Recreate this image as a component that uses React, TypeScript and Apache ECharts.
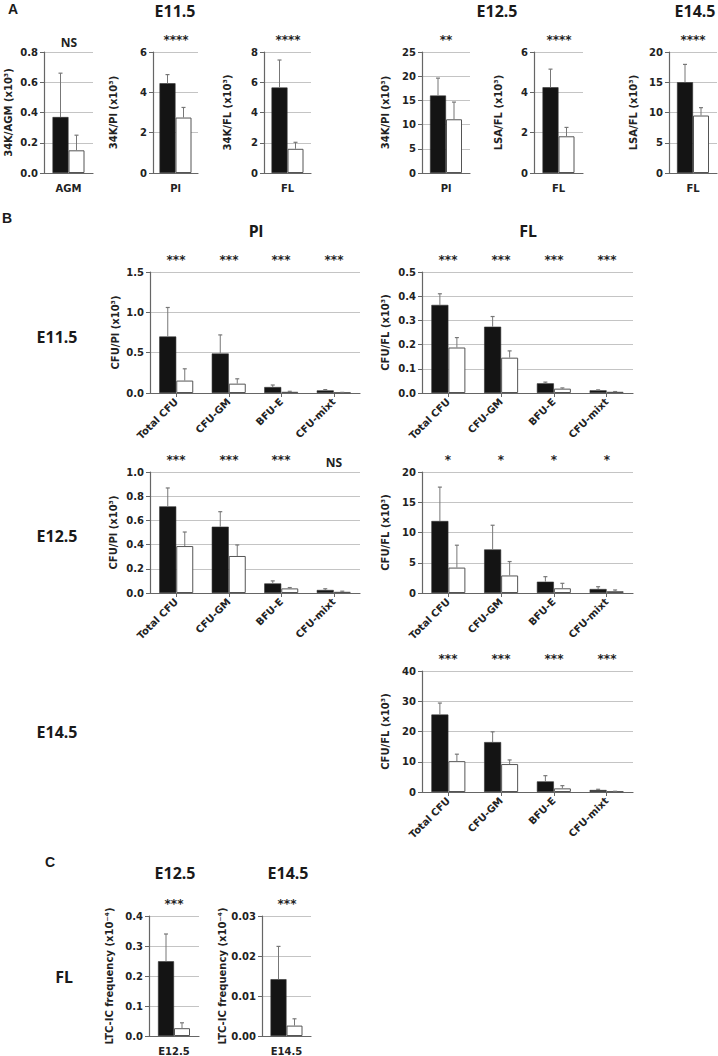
import React, { useEffect, useRef } from "react";
import * as echarts from "echarts";

// ---------- Panel A ----------
const aCategories = ["AGM", "Pl", "FL", "Pl", "FL", "FL"];
const aYNames = ["34K/AGM (x10³)", "34K/Pl (x10³)", "34K/FL (x10³)", "34K/Pl (x10³)", "LSA/FL (x10³)", "LSA/FL (x10³)"];
const aMax = [0.8, 6, 8, 25, 6, 20];
const aInterval = [0.2, 2, 2, 5, 2, 5];
const aDecimals = [1, 0, 0, 0, 0, 0];
const aBlack = [0.37, 4.45, 5.65, 16.0, 4.25, 15.0];
const aBlackErr = [0.29, 0.43, 1.82, 3.6, 0.9, 2.95];
const aWhite = [0.15, 2.75, 1.6, 11.1, 1.82, 9.5];
const aWhiteErr = [0.1, 0.5, 0.43, 3.55, 0.44, 1.3];
const aSig = ["NS", "****", "****", "**", "****", "****"];

// ---------- Panel B ----------
const bCategories = ["Total CFU", "CFU-GM", "BFU-E", "CFU-mixt"];
const b115PlBlack = [0.7, 0.49, 0.074, 0.032];
const b115PlBlackErr = [0.36, 0.23, 0.025, 0.01];
const b115PlWhite = [0.154, 0.116, 0.015, 0.005];
const b115PlWhiteErr = [0.146, 0.06, 0.006, 0.003];
const b115PlSig = ["***", "***", "***", "***"];

const b115FlBlack = [0.364, 0.274, 0.04, 0.011];
const b115FlBlackErr = [0.046, 0.042, 0.005, 0.002];
const b115FlWhite = [0.188, 0.146, 0.018, 0.005];
const b115FlWhiteErr = [0.041, 0.028, 0.003, 0.001];
const b115FlSig = ["***", "***", "***", "***"];

const b125PlBlack = [0.716, 0.548, 0.079, 0.025];
const b125PlBlackErr = [0.152, 0.124, 0.021, 0.01];
const b125PlWhite = [0.388, 0.306, 0.038, 0.01];
const b125PlWhiteErr = [0.116, 0.091, 0.007, 0.005];
const b125PlSig = ["***", "***", "***", "NS"];

const b125FlBlack = [11.9, 7.2, 1.87, 0.66];
const b125FlBlackErr = [5.6, 4.0, 0.83, 0.38];
const b125FlWhite = [4.2, 2.9, 0.78, 0.3];
const b125FlWhiteErr = [3.7, 2.3, 0.82, 0.2];
const b125FlSig = ["*", "*", "*", "*"];

const b145FlBlack = [25.6, 16.5, 3.5, 0.66];
const b145FlBlackErr = [3.8, 3.4, 1.9, 0.24];
const b145FlWhite = [10.2, 9.24, 1.2, 0.2];
const b145FlWhiteErr = [2.3, 1.36, 0.9, 0.05];
const b145FlSig = ["***", "***", "***", "***"];

// ---------- Panel C ----------
const cCategories = ["E12.5", "E14.5"];
const cBlack = [0.249, 0.0142];
const cBlackErr = [0.091, 0.0082];
const cWhite = [0.026, 0.0026];
const cWhiteErr = [0.018, 0.0017];
const cMax = [0.4, 0.03];
const cInterval = [0.1, 0.01];
const cDecimals = [1, 2];
const cSig = ["***", "***"];

const TICK_FONT = "DejaVu Sans";
const TITLE_FONT = "Noto Sans";
const TXT = "#222222";

interface PanelCfg {
  left: number; top: number; width: number; height: number;
  cats: string[]; black: number[]; blackErr: number[]; white: number[]; whiteErr: number[];
  sig: string[]; max: number; interval: number; decimals: number;
  yName: string; nameGap: number; barWidth: number; rotate: number; showTick: boolean;
}

function buildOption() {
  const grid: any[] = [];
  const xAxis: any[] = [];
  const yAxis: any[] = [];
  const series: any[] = [];

  const addPanel = (p: PanelCfg) => {
    const idx = grid.length;
    grid.push({ left: p.left, top: p.top, width: p.width, height: p.height, containLabel: false });
    xAxis.push({
      type: "category", gridIndex: idx, data: p.cats,
      axisLine: { show: true, lineStyle: { color: "#666", width: 1.2 } },
      axisTick: { show: p.showTick, alignWithLabel: true, length: 4, lineStyle: { color: "#666" } },
      axisLabel: {
        interval: 0, rotate: p.rotate, margin: p.rotate ? 7 : 10,
        fontFamily: TICK_FONT, fontWeight: "bold", fontSize: 10, color: TXT,
      },
    });
    yAxis.push({
      type: "value", gridIndex: idx, min: 0, max: p.max, interval: p.interval,
      name: p.yName, nameLocation: "middle", nameGap: p.nameGap, nameRotate: 90,
      nameTextStyle: { fontFamily: TICK_FONT, fontWeight: "bold", fontSize: 10, color: TXT },
      axisLine: { show: true, lineStyle: { color: "#666", width: 1.2 } },
      axisTick: { show: true, length: 4, lineStyle: { color: "#666" } },
      splitLine: { show: true, lineStyle: { color: "#c4c4c4", width: 1 } },
      axisLabel: {
        margin: 6, fontFamily: TICK_FONT, fontWeight: "bold", fontSize: 10, color: TXT,
        formatter: (v: number) => v.toFixed(p.decimals),
      },
    });
    series.push({
      type: "bar", xAxisIndex: idx, yAxisIndex: idx, data: p.black, barWidth: p.barWidth, barGap: "0%",
      itemStyle: { color: "#141414", borderColor: "#333", borderWidth: 0.6 },
    });
    series.push({
      type: "bar", xAxisIndex: idx, yAxisIndex: idx, data: p.white, barWidth: p.barWidth, barGap: "0%",
      itemStyle: { color: "#ffffff", borderColor: "#555", borderWidth: 1 },
    });
    const errSeries = (vals: number[], errs: number[], offset: number) => ({
      type: "custom", xAxisIndex: idx, yAxisIndex: idx, z: 5,
      itemStyle: { color: "#777" },
      data: vals.map((v, i) => [i, v, errs[i]]),
      encode: { x: 0, y: 1 },
      renderItem: (_params: any, api: any) => {
        const i = api.value(0);
        const v = api.value(1);
        const e = api.value(2);
        const base = api.coord([i, v]);
        const top = api.coord([i, v + e]);
        const x = base[0] + offset;
        return {
          type: "group",
          children: [
            { type: "line", shape: { x1: x, y1: base[1], x2: x, y2: top[1] }, style: { stroke: "#777", lineWidth: 1 } },
            { type: "line", shape: { x1: x - 2, y1: top[1], x2: x + 2, y2: top[1] }, style: { stroke: "#777", lineWidth: 1.2 } },
          ],
        };
      },
    });
    series.push(errSeries(p.black, p.blackErr, -p.barWidth / 2));
    series.push(errSeries(p.white, p.whiteErr, p.barWidth / 2));
    series.push({
      type: "custom", xAxisIndex: idx, yAxisIndex: idx, z: 6,
      itemStyle: { color: TXT },
      data: p.sig.map((_s, i) => [i]),
      encode: { x: 0 },
      renderItem: (_params: any, api: any) => {
        const i = api.value(0);
        const pt = api.coord([i, p.max]);
        const s = p.sig[i];
        const isNS = s === "NS";
        return {
          type: "text",
          x: Math.round(pt[0]),
          y: Math.round(pt[1] - (isNS ? 10 : 12)),
          style: {
            text: s, align: "center", verticalAlign: "middle",
            fontFamily: isNS ? TITLE_FONT : TICK_FONT, fontWeight: "bold",
            fontSize: 12, fill: TXT, stroke: null, lineWidth: 0,
          },
        };
      },
    });
  };

  // Panel A
  const aLefts = [44, 153, 264, 422, 534, 669];
  const aWidths = [49, 45, 47, 48, 49, 48];
  const aGaps = [31, 35, 32, 32, 31, 31];
  aCategories.forEach((c, i) => {
    addPanel({
      left: aLefts[i], top: 52, width: aWidths[i], height: 121,
      cats: [c], black: [aBlack[i]], blackErr: [aBlackErr[i]], white: [aWhite[i]], whiteErr: [aWhiteErr[i]],
      sig: [aSig[i]], max: aMax[i], interval: aInterval[i], decimals: aDecimals[i],
      yName: aYNames[i], nameGap: aGaps[i], barWidth: 16, rotate: 0, showTick: false,
    });
  });

  // Panel B
  addPanel({
    left: 150, top: 272, width: 210, height: 121, cats: bCategories,
    black: b115PlBlack, blackErr: b115PlBlackErr, white: b115PlWhite, whiteErr: b115PlWhiteErr, sig: b115PlSig,
    max: 1.5, interval: 0.5, decimals: 1, yName: "CFU/Pl (x10³)", nameGap: 30, barWidth: 17, rotate: 45, showTick: true,
  });
  addPanel({
    left: 422, top: 272, width: 211, height: 121, cats: bCategories,
    black: b115FlBlack, blackErr: b115FlBlackErr, white: b115FlWhite, whiteErr: b115FlWhiteErr, sig: b115FlSig,
    max: 0.5, interval: 0.1, decimals: 1, yName: "CFU/FL (x10³)", nameGap: 32, barWidth: 17, rotate: 45, showTick: true,
  });
  addPanel({
    left: 150, top: 472, width: 210, height: 121, cats: bCategories,
    black: b125PlBlack, blackErr: b125PlBlackErr, white: b125PlWhite, whiteErr: b125PlWhiteErr, sig: b125PlSig,
    max: 1.0, interval: 0.2, decimals: 1, yName: "CFU/Pl (x10³)", nameGap: 32, barWidth: 17, rotate: 45, showTick: true,
  });
  addPanel({
    left: 422, top: 472, width: 211, height: 121, cats: bCategories,
    black: b125FlBlack, blackErr: b125FlBlackErr, white: b125FlWhite, whiteErr: b125FlWhiteErr, sig: b125FlSig,
    max: 20, interval: 5, decimals: 0, yName: "CFU/FL (x10³)", nameGap: 32, barWidth: 17, rotate: 45, showTick: true,
  });
  addPanel({
    left: 422, top: 671, width: 211, height: 121, cats: bCategories,
    black: b145FlBlack, blackErr: b145FlBlackErr, white: b145FlWhite, whiteErr: b145FlWhiteErr, sig: b145FlSig,
    max: 40, interval: 10, decimals: 0, yName: "CFU/FL (x10³)", nameGap: 32, barWidth: 17, rotate: 45, showTick: true,
  });

  // Panel C
  const cLefts = [149, 262];
  const cWidths = [50, 49];
  cCategories.forEach((c, i) => {
    addPanel({
      left: cLefts[i], top: 916, width: cWidths[i], height: 121,
      cats: [c], black: [cBlack[i]], blackErr: [cBlackErr[i]], white: [cWhite[i]], whiteErr: [cWhiteErr[i]],
      sig: [cSig[i]], max: cMax[i], interval: cInterval[i], decimals: cDecimals[i],
      yName: "LTC-IC frequency (x10⁻⁴)", nameGap: 35, barWidth: 16, rotate: 0, showTick: false,
    });
  });

  const title = (text: string, x: number, y: number, size = 16, family = TITLE_FONT) => ({
    type: "text", x, y,
    style: { text, align: "center", verticalAlign: "middle", fontFamily: family, fontWeight: "bold", fontSize: size, fill: "#1a1a1a" },
  });

  const graphic = [
    title("A", 13, 9, 14, "Liberation Sans"),
    title("E11.5", 175, 11),
    title("E12.5", 497, 11),
    title("E14.5", 695, 11),
    title("B", 7, 218, 14, "Liberation Sans"),
    title("Pl", 256, 231),
    title("FL", 528, 231),
    title("E11.5", 57, 337),
    title("E12.5", 57, 536),
    title("E14.5", 57, 732),
    title("C", 50, 862, 14, "Liberation Sans"),
    title("E12.5", 175, 873),
    title("E14.5", 288, 873),
    title("FL", 64, 977),
  ];

  return { animation: false, backgroundColor: "#ffffff", grid, xAxis, yAxis, series, graphic };
}

export default function App() {
  const ref = useRef<HTMLDivElement>(null);
  useEffect(() => {
    document.body.style.margin = "0";
    if (!ref.current) return;
    const chart = echarts.init(ref.current, undefined, { renderer: "svg" });
    chart.setOption(buildOption() as any);
    return () => chart.dispose();
  }, []);
  return <div ref={ref} style={{ width: 718, height: 1056 }} />;
}
